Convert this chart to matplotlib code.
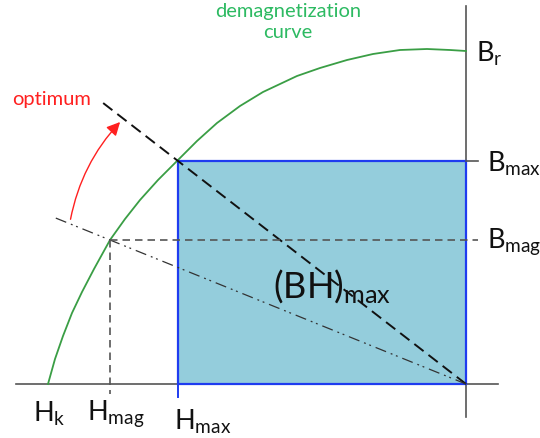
import matplotlib
matplotlib.use("Agg")
import matplotlib.pyplot as plt
import numpy as np
from matplotlib.patches import Rectangle, FancyArrowPatch

plt.rcParams['font.family'] = ['Lato', 'DejaVu Sans']
plt.rcParams['mathtext.fontset'] = 'custom'
plt.rcParams['mathtext.rm'] = 'Lato'

# operating points (H negative, B positive), origin at the axis cross
H_k = -418
B_r = 333
H_max, B_max = -288, 223
H_mag, B_mag = -356, 144

# demagnetization curve read point by point
curve_H = [-418, -411, -403, -394, -384, -372, -356, -341, -326, -308, -289,
           -269, -249, -226, -203, -169, -146, -119, -93, -66, -39, -16, 0]
curve_B = [0, 25, 48, 71, 92, 115, 144, 165, 184, 204, 223,
           243, 261, 278, 292, 308, 316, 324, 330, 334, 335, 334, 333]

fig = plt.figure(figsize=(5.4, 4.39), dpi=100)
ax = fig.add_axes([0, 0, 1, 1])
ax.set_xlim(-466, 74)
ax.set_ylim(-54, 385)
ax.axis('off')

axis_col = '#555555'
# axes
ax.plot([0, 0], [-33, 378], color=axis_col, lw=1.2, zorder=1)
ax.plot([-450, 32], [0, 0], color=axis_col, lw=1.2, zorder=1)

# (BH)max rectangle
ax.add_patch(Rectangle((H_max, 0), -H_max, B_max, facecolor='#94cddc',
                       edgecolor='#1f3cf0', lw=1.6, zorder=2))
ax.plot([H_max, H_max], [0, -13], color='#1f3cf0', lw=1.4, zorder=2)
ax.plot([0, 12], [B_max, B_max], color=axis_col, lw=1.2, zorder=2)

# demagnetization curve
ax.plot(curve_H, curve_B, color='#3a9e45', lw=1.3, zorder=3)

# load line through the (BH)max point
s_max = B_max / H_max
ax.plot([0, -363], [0, -363 * s_max], color='#111111', lw=1.4,
        dashes=(6, 3.2), zorder=4)

# load line through the magnet working point
s_mag = B_mag / H_mag
ax.plot([0, -414], [0, -414 * s_mag], color='#333333', lw=0.9,
        dashes=(9, 4, 1.5, 3, 1.5, 4), zorder=4)

# projections of the working point
ax.plot([H_mag, 12], [B_mag, B_mag], color='#555555', lw=1.2,
        dashes=(4.5, 3), zorder=4)
ax.plot([H_mag, H_mag], [B_mag, -10], color='#555555', lw=1.2,
        dashes=(4.5, 3), zorder=4)

# rotation towards the optimum
ax.add_patch(FancyArrowPatch((-396, 162), (-344, 264),
                             connectionstyle='arc3,rad=-0.15',
                             arrowstyle='-|>,head_length=8,head_width=4',
                             color='#ff2020', lw=1.0, zorder=5))

# labels
ax.text(-178, 363, 'demagnetization\ncurve', color='#2dba62', fontsize=14.5,
        ha='center', va='center', linespacing=1.35)
ax.text(-454, 285, 'optimum', color='#ff2020', fontsize=14.5, ha='left', va='center')

lab = dict(fontsize=19.5, color='#111111', ha='left', va='baseline')
ax.text(10, 323, r'$\mathregular{B_r}$', **lab)
ax.text(21, 213, r'$\mathregular{B_{max}}$', **lab)
ax.text(21, 137, r'$\mathregular{B_{mag}}$', **lab)
ax.text(-433, -37, r'$\mathregular{H_k}$', **lab)
ax.text(-379, -35, r'$\mathregular{H_{mag}}$', **lab)
ax.text(-292, -45, r'$\mathregular{H_{max}}$', **lab)
ax.text(-193, 87, r'$\mathregular{(BH)_{max}}$', fontsize=26, color='#111111',
        ha='left', va='baseline')

fig.savefig('out.png', dpi=100)
